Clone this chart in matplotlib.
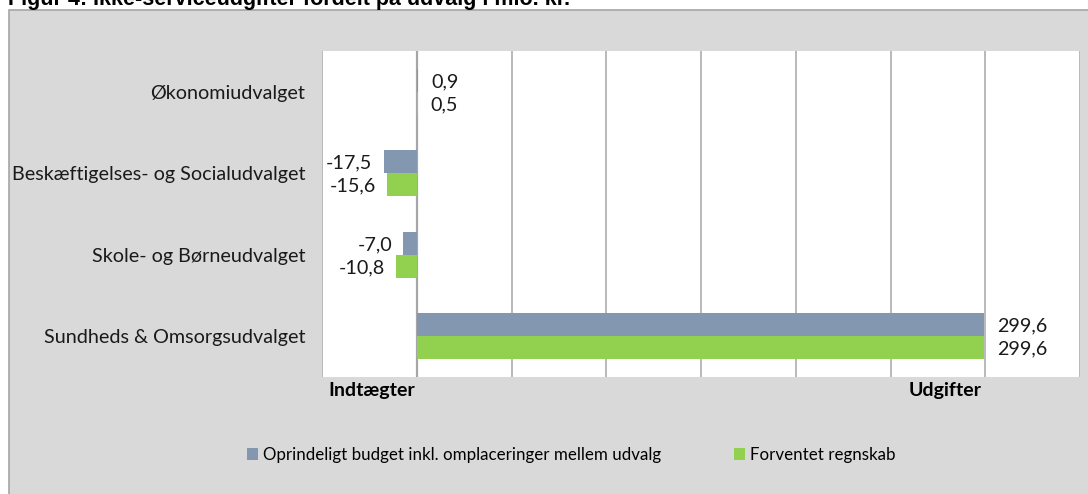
import numpy as np
import matplotlib.pyplot as plt
from matplotlib.patches import Rectangle
from matplotlib.transforms import blended_transform_factory

# data (mio. kr.)
udvalg = ["Økonomiudvalget", "Beskæftigelses- og Socialudvalget",
          "Skole- og Børneudvalget", "Sundheds & Omsorgsudvalget"]
budget = [0.9, -17.5, -7.0, 299.6]
forventet = [0.5, -15.6, -10.8, 299.6]
serie_navne = ["Oprindeligt budget inkl. omplaceringer mellem udvalg", "Forventet regnskab"]

blaa = "#8497B0"
groen = "#92D050"

plt.rcParams["font.family"] = ["Lato", "DejaVu Sans"]

fig = plt.figure(figsize=(10.88, 4.94), dpi=100, facecolor="white")

# graa diagramomraade med kant
W, H = 1088, 494
fig.patches.append(Rectangle((9 / W, -0.01), 1.0, (H - 10) / H + 0.01, transform=fig.transFigure,
                             facecolor="#D9D9D9", edgecolor="#A6A6A6", linewidth=1.2, zorder=-5))

# titel (skaaret af foroven ligesom i originalen)
fig.text(8 / W, 1 - 5 / H, "Figur 4: Ikke-serviceudgifter fordelt på udvalg i mio. kr.",
         fontsize=15.5, fontweight="bold", family=["Liberation Sans", "DejaVu Sans"],
         va="baseline", ha="left")

ax = fig.add_axes([322 / W, 1 - 377 / H, (1080 - 322) / W, (377 - 51) / H])
ax.set_facecolor("white")

y = np.arange(len(udvalg))
h = 0.285
ax.barh(y - h / 2, budget, height=h, color=blaa, label=serie_navne[0], zorder=3)
ax.barh(y + h / 2, forventet, height=h, color=groen, label=serie_navne[1], zorder=3)

ax.set_xlim(-50, 350)
ax.set_ylim(len(udvalg) - 0.5, -0.5)
ax.set_xticks(np.arange(-50, 351, 50))
ax.set_xticklabels([])
ax.tick_params(axis="x", length=0)
ax.grid(axis="x", color="#A6A6A6", linewidth=1.1, zorder=0)
ax.axvline(0, color="#A6A6A6", linewidth=1.6, zorder=2)
for s in ax.spines.values():
    s.set_visible(False)

ax.set_yticks(y)
ax.set_yticklabels(udvalg, fontsize=14.2, color="#1a1a1a")
ax.tick_params(axis="y", length=0, pad=12)

# dataetiketter
def fmt(v):
    return f"{v:.1f}".replace(".", ",")

for vals, off in [(budget, -h / 2), (forventet, h / 2)]:
    for i, v in enumerate(vals):
        if v >= 0:
            ax.annotate(fmt(v), (v, i + off), xytext=(9, -1), textcoords="offset points",
                        ha="left", va="center", fontsize=14.2, color="#1a1a1a")
        else:
            ax.annotate(fmt(v), (v, i + off), xytext=(-8, -1), textcoords="offset points",
                        ha="right", va="center", fontsize=14.2, color="#1a1a1a")

# Indtaegter / Udgifter under aksen
tr = blended_transform_factory(ax.transData, ax.transAxes)
ax.text(-1, -0.015, "Indtægter", transform=tr, ha="right", va="top", fontsize=14, fontweight="bold")
ax.text(298, -0.015, "Udgifter", transform=tr, ha="right", va="top", fontsize=14, fontweight="bold")

leg = fig.legend(loc="center", bbox_to_anchor=(571 / W, 1 - 455 / H), ncol=2, frameon=False,
                 fontsize=12.2, handlelength=0.65, handleheight=0.65, handletextpad=0.3,
                 columnspacing=4.3)

fig.savefig("out.png", dpi=100, facecolor=fig.get_facecolor())
